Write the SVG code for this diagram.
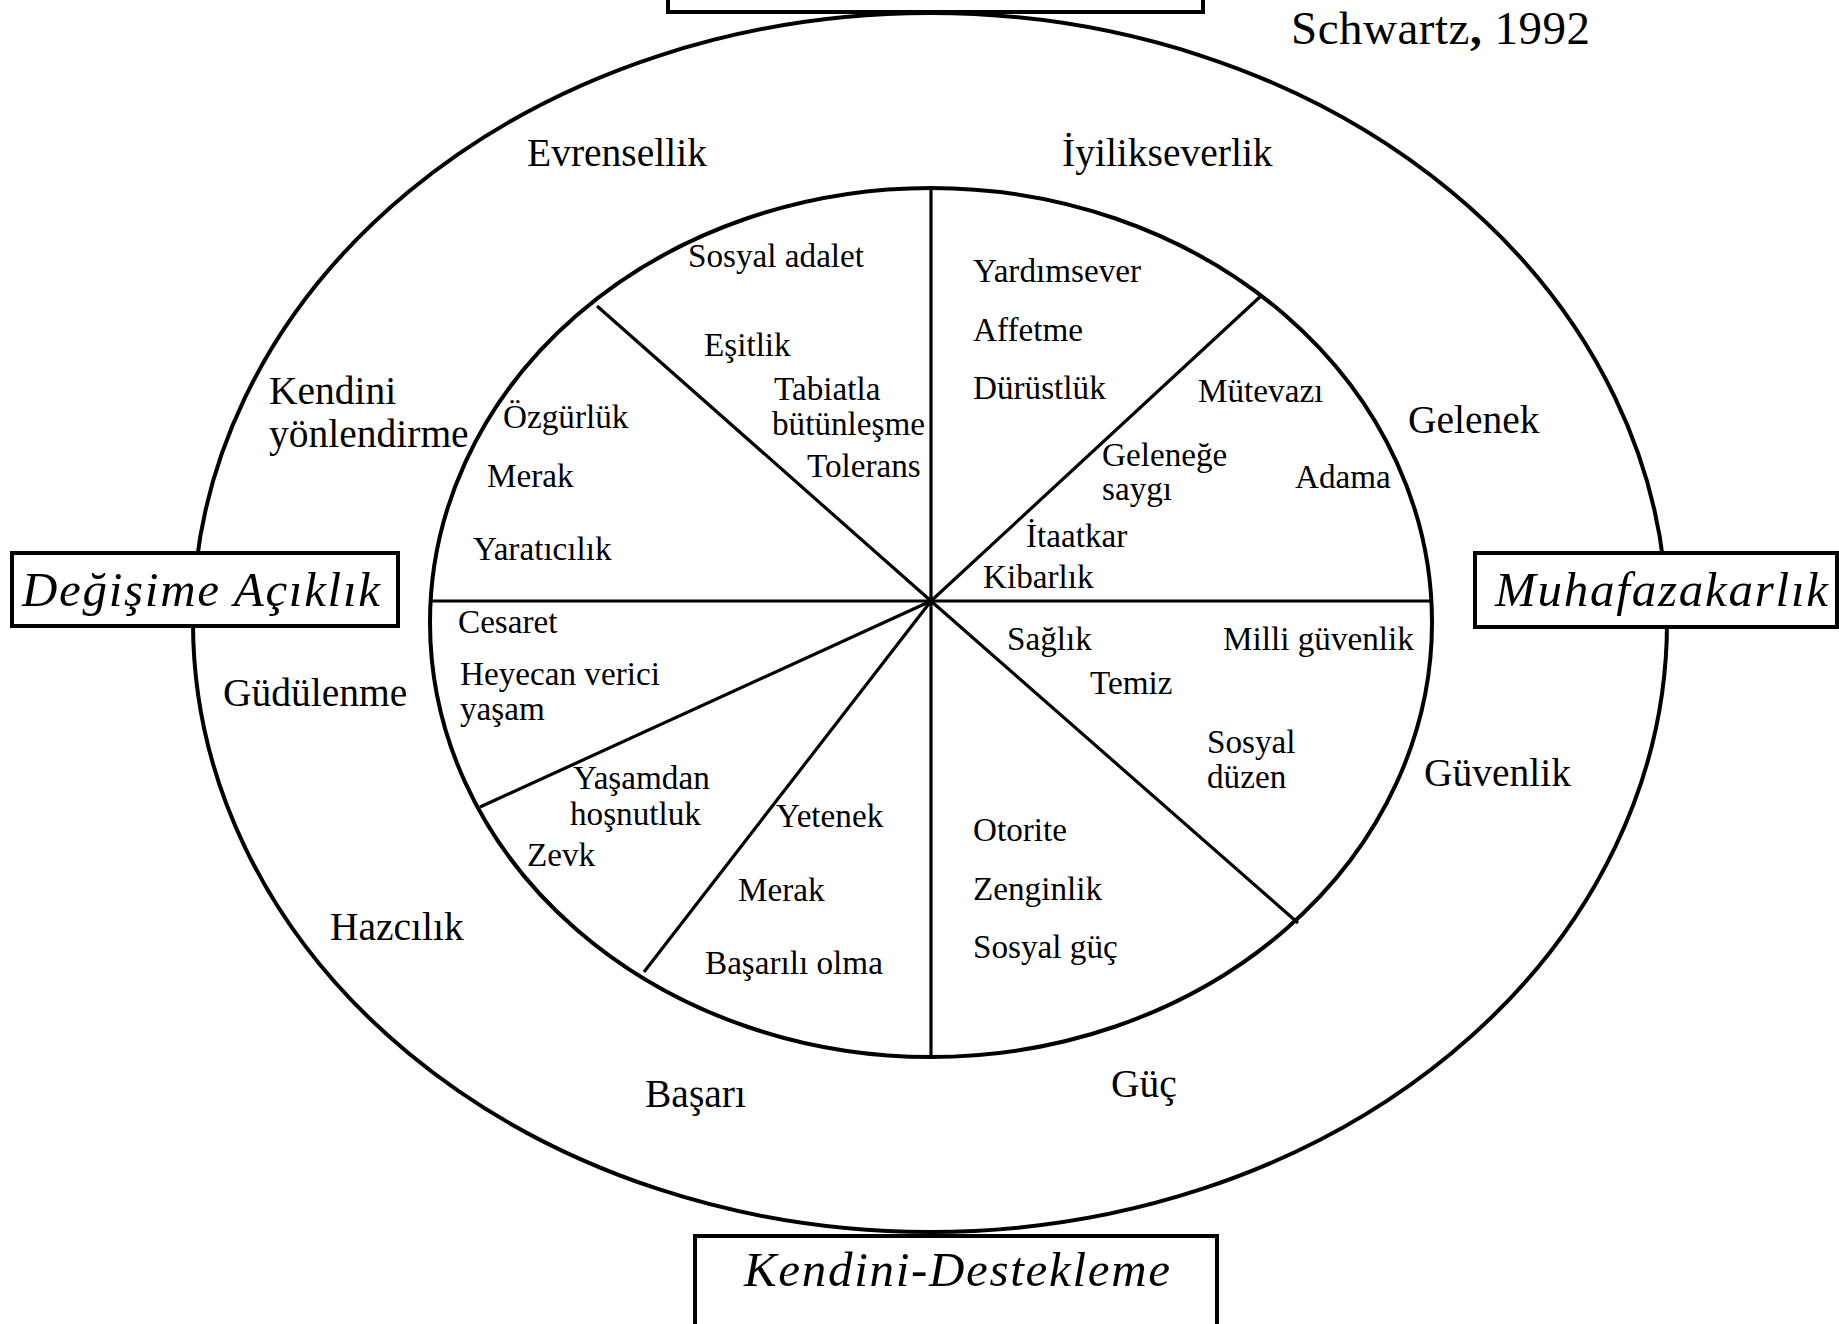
<svg xmlns="http://www.w3.org/2000/svg" width="1839" height="1324" viewBox="0 0 1839 1324">
<style>
  .ln { fill: none; stroke: #000; stroke-width: 4; }
  .sp { fill: none; stroke: #000; stroke-width: 3.2; stroke-linecap: butt; }
  .box { fill: #fff; stroke: #000; stroke-width: 4; }
  text { font-family: "Liberation Serif", "Times New Roman", serif; fill: #000; }
  .in { font-size: 33.2px; }
  .out { font-size: 39.5px; }
  .bx { font-size: 49px; font-style: italic; }
  .src { font-size: 47px; }
</style>
<rect width="1839" height="1324" fill="#fff"/>

<g id="wheel">
  <ellipse class="ln" cx="930" cy="622.5" rx="737" ry="609.5"/>
  <ellipse class="ln" cx="931" cy="622.5" rx="501" ry="434.5"/>
</g>

<g id="connectors">
  <line class="sp" x1="931" y1="188" x2="931" y2="1058"/>
  <line class="sp" x1="430" y1="601" x2="1432" y2="601"/>
  <line class="sp" x1="931" y1="601" x2="597" y2="306"/>
  <line class="sp" x1="931" y1="601" x2="1262" y2="295"/>
  <line class="sp" x1="931" y1="601" x2="480" y2="807"/>
  <line class="sp" x1="931" y1="601" x2="644" y2="972"/>
  <line class="sp" x1="931" y1="601" x2="1298" y2="923"/>
</g>

<g id="top-box">
  <rect class="box" x="668" y="-60" width="535" height="72"/>
</g>
<g id="source">
  <text class="src" x="1291" y="44" textLength="299">Schwartz<tspan font-weight="bold">,</tspan> 1992</text>
</g>

<g id="box-degisime">
  <rect class="box" x="12" y="553" width="386" height="73"/>
  <text class="bx" x="22" y="606" textLength="358">Değişime Açıklık</text>
</g>
<g id="box-muhafazakarlik">
  <rect class="box" x="1475" y="553" width="362" height="74"/>
  <text class="bx" x="1495" y="606" textLength="333">Muhafazakarlık</text>
</g>
<g id="box-kendini-destekleme">
  <rect class="box" x="695" y="1236" width="522" height="100"/>
  <text class="bx" x="744" y="1286" textLength="426">Kendini-Destekleme</text>
</g>

<g id="outer-labels">
  <g id="evrensellik"><text class="out" x="527" y="166">Evrensellik</text></g>
  <g id="iyilikseverlik"><text class="out" x="1062" y="166">İyilikseverlik</text></g>
  <g id="kendini-yonlendirme"><text class="out" x="269" y="404">Kendini</text><text class="out" x="269" y="447">yönlendirme</text></g>
  <g id="gelenek"><text class="out" x="1408" y="433">Gelenek</text></g>
  <g id="gudulenme"><text class="out" x="223" y="706">Güdülenme</text></g>
  <g id="guvenlik"><text class="out" x="1424" y="786">Güvenlik</text></g>
  <g id="hazcilik"><text class="out" x="330" y="940">Hazcılık</text></g>
  <g id="basari"><text class="out" x="645" y="1107">Başarı</text></g>
  <g id="guc"><text class="out" x="1111" y="1097">Güç</text></g>
</g>

<g id="inner-labels">
  <g id="sec-evrensellik">
    <text class="in" x="688" y="267">Sosyal adalet</text>
    <text class="in" x="704" y="356">Eşitlik</text>
    <text class="in" x="774" y="400">Tabiatla</text>
    <text class="in" x="772" y="435">bütünleşme</text>
    <text class="in" x="807" y="477">Tolerans</text>
  </g>
  <g id="sec-kendini">
    <text class="in" x="503" y="428">Özgürlük</text>
    <text class="in" x="487" y="487">Merak</text>
    <text class="in" x="473" y="560">Yaratıcılık</text>
  </g>
  <g id="sec-iyilik">
    <text class="in" x="973" y="282">Yardımsever</text>
    <text class="in" x="973" y="341">Affetme</text>
    <text class="in" x="973" y="399">Dürüstlük</text>
  </g>
  <g id="sec-gelenek">
    <text class="in" x="1198" y="402">Mütevazı</text>
    <text class="in" x="1102" y="466">Geleneğe</text>
    <text class="in" x="1102" y="500">saygı</text>
    <text class="in" x="1295" y="488">Adama</text>
    <text class="in" x="1026" y="547">İtaatkar</text>
    <text class="in" x="983" y="588">Kibarlık</text>
  </g>
  <g id="sec-gudulenme">
    <text class="in" x="458" y="633">Cesaret</text>
    <text class="in" x="460" y="685">Heyecan verici</text>
    <text class="in" x="460" y="720">yaşam</text>
  </g>
  <g id="sec-hazcilik">
    <text class="in" x="573" y="789">Yaşamdan</text>
    <text class="in" x="570" y="825">hoşnutluk</text>
    <text class="in" x="527" y="866">Zevk</text>
  </g>
  <g id="sec-basari">
    <text class="in" x="776" y="827">Yetenek</text>
    <text class="in" x="738" y="901">Merak</text>
    <text class="in" x="705" y="974">Başarılı olma</text>
  </g>
  <g id="sec-guvenlik">
    <text class="in" x="1007" y="650">Sağlık</text>
    <text class="in" x="1223" y="650">Milli güvenlik</text>
    <text class="in" x="1090" y="694">Temiz</text>
    <text class="in" x="1207" y="753">Sosyal</text>
    <text class="in" x="1207" y="788">düzen</text>
  </g>
  <g id="sec-guc">
    <text class="in" x="973" y="841">Otorite</text>
    <text class="in" x="973" y="900">Zenginlik</text>
    <text class="in" x="973" y="958">Sosyal güç</text>
  </g>
</g>
</svg>
